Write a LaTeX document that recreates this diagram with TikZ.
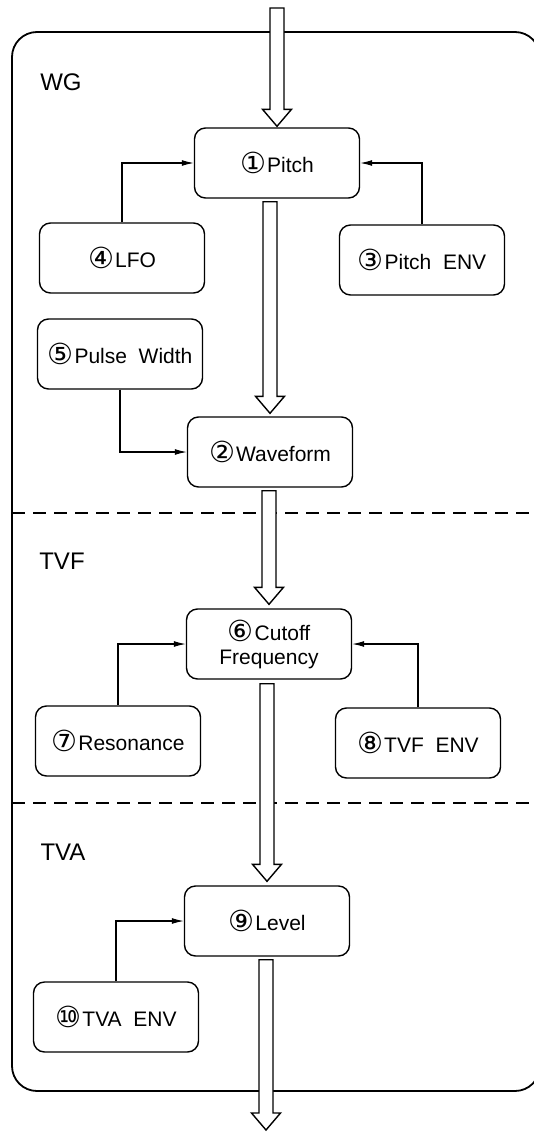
\documentclass[tikz,border=0pt]{standalone}
\usepackage{fontspec}
\setmainfont{Liberation Sans}
\newfontfamily\circfont{DejaVu Sans}
\usetikzlibrary{arrows.meta,calc}
\newcommand{\cn}[1]{{\circfont\fontsize{29}{29}\selectfont\raisebox{-1pt}{#1}}\hspace{1pt}}
\newcommand{\bigarr}[2]{\path[bigarrow] let \p1=#1, \p2=#2 in
  (\x2-7pt,\y1) -- (\x2-7pt,\y2+17pt) -- (\x2-14.5pt,\y2+17pt) -- (\x2,\y2)
  -- (\x2+14.5pt,\y2+17pt) -- (\x2+7pt,\y2+17pt) -- (\x2+7pt,\y1) -- cycle;}
\tikzset{
  blockbox/.style={draw, line width=1.4pt, rounded corners=11pt, minimum width=165pt,
    minimum height=70pt, align=center, font=\fontsize{21}{24}\selectfont, inner sep=2pt},
  seclabel/.style={anchor=center, font=\fontsize{24}{24}\selectfont, inner sep=0pt},
  conn/.style={line width=1.1pt, -{Latex[length=12pt,width=6pt]}},
  bigarrow/.style={draw, fill=white, line width=1.4pt, line join=miter},
  frame/.style={line width=1.8pt, rounded corners=25pt},
  sep/.style={line width=1.4pt, dash pattern=on 13pt off 8pt},
}
\begin{document}
\begin{tikzpicture}[x=1pt,y=-1pt]
\useasboundingbox (0,0) rectangle (534,1132);
% frame and separators
\draw[frame] (12,32) rectangle (540,1091);
\draw[sep] (12,513) -- (540,513);
\draw[sep] (12,803) -- (540,803);
% section labels
\node[seclabel] (wg) at (61,82) {WG};
\node[seclabel] (tvf) at (62,561) {TVF};
\node[seclabel] (tva) at (63,852) {TVA};
% boxes
\node[blockbox] (pitch) at (277,163) {\cn{①}Pitch};
\node[blockbox] (lfo) at (122,258) {\cn{④}LFO};
\node[blockbox] (penv) at (422,260) {\cn{③}Pitch\ \ ENV};
\node[blockbox] (pw) at (120,354) {\cn{⑤}Pulse\ \ Width};
\node[blockbox] (wave) at (270,452) {\cn{②}Waveform};
\node[blockbox] (cutoff) at (269,644) {\cn{⑥}Cutoff\\Frequency};
\node[blockbox] (res) at (118,741) {\cn{⑦}Resonance};
\node[blockbox] (tvfenv) at (418,743) {\cn{⑧}TVF\ \ ENV};
\node[blockbox] (level) at (267,921) {\cn{⑨}Level};
\node[blockbox] (tvaenv) at (116,1017) {\cn{⑩}TVA\ \ ENV};
\coordinate (in) at (273,8);
\coordinate (out) at (266,1130);
% connectors
\draw[conn] (lfo.north) |- (pitch.west);
\draw[conn] (penv.north) |- (pitch.east);
\draw[conn] (pw.south) |- (wave.west);
\draw[conn] (res.north) |- (cutoff.west);
\draw[conn] (tvfenv.north) |- (cutoff.east);
\draw[conn] (tvaenv.north) |- (level.west);
% big flow arrows
\bigarr{(in)}{($(pitch.north)+(0,-1)$)}
\bigarr{($(pitch.south)+(0,3)$)}{($(wave.north)+(0,-3)$)}
\bigarr{($(wave.south)+(0,3)$)}{($(cutoff.north)+(0,-4)$)}
\bigarr{($(cutoff.south)+(0,4)$)}{($(level.north)+(0,-4)$)}
\bigarr{($(level.south)+(0,3)$)}{(out)}
\end{tikzpicture}
\end{document}
